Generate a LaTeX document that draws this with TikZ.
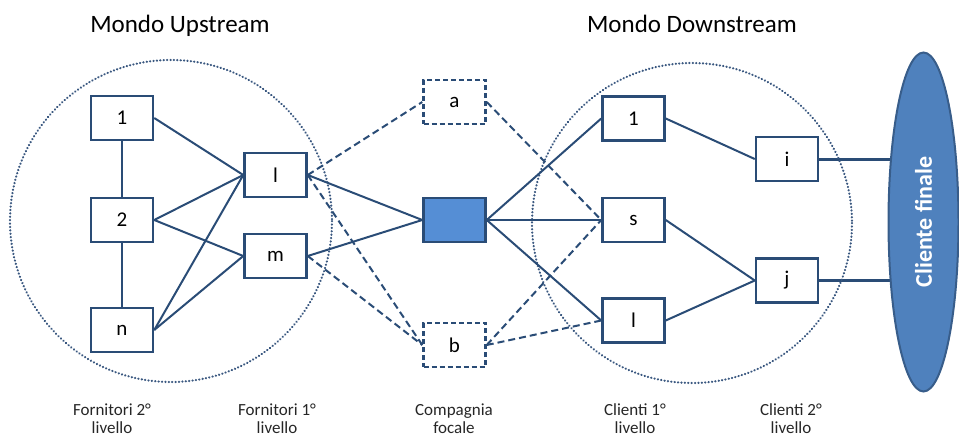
\documentclass[tikz,border=0pt]{standalone}
\usepackage{fontspec}
\setmainfont{Carlito}
\usetikzlibrary{shapes.geometric,backgrounds}
\definecolor{edgecol}{RGB}{42,76,118}
\definecolor{ringcol}{RGB}{58,88,128}
\definecolor{focalcol}{RGB}{85,142,213}
\definecolor{clientcol}{RGB}{79,129,189}
\definecolor{clientline}{RGB}{56,93,138}

\begin{document}
\begin{tikzpicture}[x=1pt,y=-1pt,
  box/.style={draw=edgecol, line width=2.5pt, fill=white, minimum width=62pt,
    minimum height=44pt, inner sep=0pt, font=\fontsize{21}{24}\selectfont},
  ghost/.style={box, dash pattern=on 5pt off 3pt},
  link/.style={draw=edgecol, line width=2pt},
  weak/.style={link, dash pattern=on 7pt off 4pt},
  ringline/.style={draw=ringcol, line width=2.3pt, line cap=round, dash pattern=on 0.2pt off 3.2pt},
  caption/.style={font=\fontsize{17}{18}\selectfont, align=center, text=black!85},
  title/.style={font=\fontsize{25}{28}\selectfont}]

\useasboundingbox (0,0) rectangle (959,436);

% upstream and downstream worlds
\draw[ringline] (171,221) circle[radius=161];
\draw[ringline] (692,223) circle[radius=160];

\node[title, anchor=base] (tup) at (180,33) {Mondo Upstream};
\node[title, anchor=base] (tdown) at (692,33) {Mondo Downstream};

% suppliers
\node[box] (u1) at (122,118) {1};
\node[box] (u2) at (122,220) {2};
\node[box] (un) at (122,330) {n};
\node[box] (ul) at (275.5,175) {l};
\node[box] (um) at (275.5,256) {m};

% focal company and alternatives
\node[ghost] (a) at (454.5,102) {a};
\node[box, fill=focalcol] (fc) at (454.5,220) {};
\node[ghost] (b) at (454.5,345) {b};

% customers
\node[box] (d1) at (633.5,118.5) {1};
\node[box] (ds) at (633.5,220) {s};
\node[box] (dl) at (633.5,320.5) {l};
\node[box] (di) at (787,159) {i};
\node[box] (dj) at (787,280.5) {j};

% final customer
\node[ellipse, draw=clientline, line width=2pt, fill=clientcol,
  minimum width=70pt, minimum height=339pt, inner sep=0pt] (cf) at (923.5,222) {};
\node[rotate=90, text=white, font=\fontsize{24}{26}\selectfont\bfseries] (cft) at (cf) {Cliente finale};

% supplier links
\draw[link] (u1) -- (u2);
\draw[link] (u2) -- (un);
\draw[link] (u1.east) -- (ul.west);
\draw[link] (u2.east) -- (ul.west);
\draw[link] (u2.east) -- (um.west);
\draw[link] (un.east) -- (ul.west);
\draw[link] (un.east) -- (um.west);

% links through the focal company
\draw[link] (ul.east) -- (fc.west);
\draw[link] (um.east) -- (fc.west);
\draw[link] (fc.east) -- (d1.west);
\draw[link] (fc.east) -- (ds.west);
\draw[link] (fc.east) -- (dl.west);

% alternative links
\draw[weak] (ul.east) -- (a.west);
\draw[weak] (ul.east) -- (b.west);
\draw[weak] (um.east) -- (b.west);
\draw[weak] (a.east) -- (ds.west);
\draw[weak] (b.east) -- (ds.west);
\draw[weak] (b.east) -- (dl.west);

% customer links
\draw[link] (d1.east) -- (di.west);
\draw[link] (ds.east) -- (dj.west);
\draw[link] (dl.east) -- (dj.west);
\begin{pgfonlayer}{background}
\draw[link, line width=3pt] (di.east) -- (di.east -| cf.center);
\draw[link, line width=3pt] (dj.east) -- (dj.east -| cf.center);
\end{pgfonlayer}

% level captions (base = baseline of the second line)
\node[caption, anchor=base] (c1) at (112,433) {Fornitori 2°\\livello};
\node[caption, anchor=base] (c2) at (277,433) {Fornitori 1°\\livello};
\node[caption, anchor=base] (c3) at (454,433) {Compagnia\\focale};
\node[caption, anchor=base] (c4) at (635,433) {Clienti 1°\\livello};
\node[caption, anchor=base] (c5) at (791,433) {Clienti 2°\\livello};
\end{tikzpicture}
\end{document}
